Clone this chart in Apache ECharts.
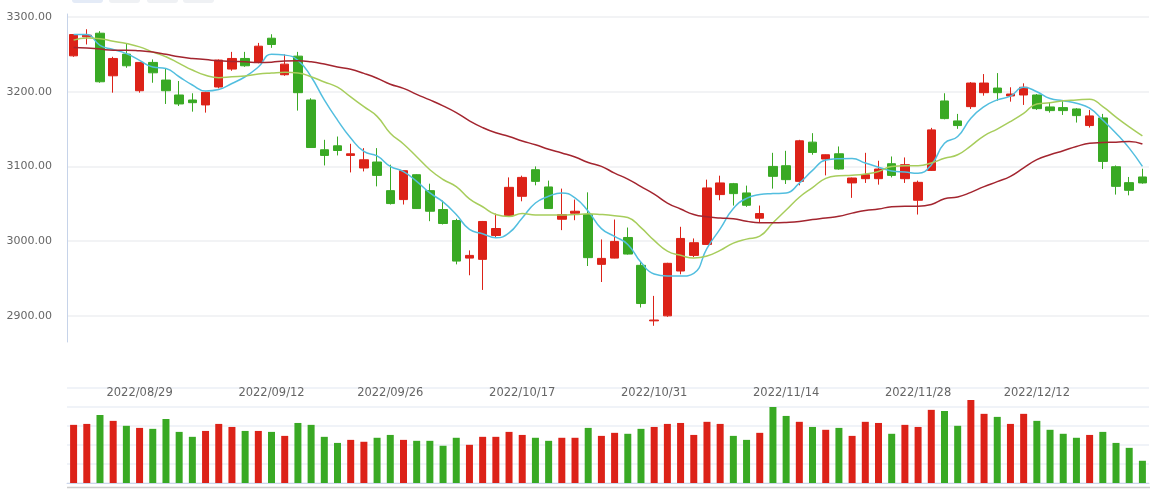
<!DOCTYPE html>
<html>
<head>
<meta charset="utf-8">
<script src="https://cdn.jsdelivr.net/npm/echarts@6/dist/echarts.min.js"></script>
<style>
html,body{margin:0;padding:0;background:#fff;}
#chart{width:1155px;height:489px;}
</style>
</head>
<body>
<div id="chart"></div>
<script>
var dates = ['2022/08/22','2022/08/23','2022/08/24','2022/08/25','2022/08/26','2022/08/29','2022/08/30','2022/08/31','2022/09/01','2022/09/02',
'2022/09/05','2022/09/06','2022/09/07','2022/09/08','2022/09/09','2022/09/12','2022/09/14','2022/09/15','2022/09/16','2022/09/19',
'2022/09/20','2022/09/21','2022/09/22','2022/09/23','2022/09/26','2022/09/27','2022/09/28','2022/09/29','2022/09/30','2022/10/10',
'2022/10/11','2022/10/12','2022/10/13','2022/10/14','2022/10/17','2022/10/18','2022/10/19','2022/10/20','2022/10/21','2022/10/24',
'2022/10/25','2022/10/26','2022/10/27','2022/10/28','2022/10/31','2022/11/01','2022/11/02','2022/11/03','2022/11/04','2022/11/07',
'2022/11/08','2022/11/09','2022/11/10','2022/11/11','2022/11/14','2022/11/15','2022/11/16','2022/11/17','2022/11/18','2022/11/21',
'2022/11/22','2022/11/23','2022/11/24','2022/11/25','2022/11/28','2022/11/29','2022/11/30','2022/12/01','2022/12/02','2022/12/05',
'2022/12/06','2022/12/07','2022/12/08','2022/12/12','2022/12/13','2022/12/14','2022/12/15','2022/12/16','2022/12/19','2022/12/20',
'2022/12/21','2022/12/22'];

var tickLabels = ['2022/08/29','2022/09/12','2022/09/26','2022/10/17','2022/10/31','2022/11/14','2022/11/28','2022/12/12'];

var openV = [3248,3273.4,3278.3,3221.3,3250.3,3201.3,3239.2,3215.6,3195.6,3188.9,
3182.3,3206.3,3230.3,3244.5,3239.2,3271.6,3222.7,3247.6,3188.9,3122.3,
3127.6,3114.7,3097.9,3105.9,3067.6,3055.6,3088.9,3067.6,3042.3,3027.6,
2977.3,2975.6,3007.6,3034.3,3060,3095.6,3072.5,3029.3,3037.3,3035.6,
2968.9,2977.3,3004.9,2967.6,2893.3,2900,2960,2980.9,2995.6,3062.3,
3076.9,3064.5,3030.7,3100,3100.9,3080,3132.5,3109.9,3116.9,3077.9,
3083.6,3083.6,3103.6,3083.6,3054.7,3094.7,3187.6,3160.9,3180,3198.7,
3204.9,3194.3,3195.6,3195.6,3179.6,3178.7,3176.9,3154.7,3164.9,3099.6,
3078.3,3085.9];
var closeV = [3276.5,3275.6,3213.3,3244.5,3234.7,3239.2,3225.3,3201.3,3183.6,3185.3,
3199.2,3242.3,3244.5,3234.7,3260.9,3263.2,3236.9,3198.7,3125.3,3114.7,
3121.3,3116.9,3108.9,3088,3050.3,3094.3,3043.6,3040,3023.6,2973.3,
2980.9,3026.3,3016.9,3072,3085.3,3080,3043.6,3035.6,3040,2977.9,
2976.9,2999.6,2982.7,2916.5,2894.4,2970.3,3003.6,2997.9,3071.2,3077.9,
3063.6,3048,3036.9,3086.7,3082.3,3134.3,3118.7,3115.6,3096.5,3084.5,
3088.9,3096.5,3088,3102.3,3078.7,3148.9,3164,3154.7,3211.6,3211.6,
3198.7,3196.9,3205.9,3177.3,3174.7,3174.7,3168,3167.6,3106.7,3073.3,
3068,3077.9];
var lowV = [3246.7,3263.2,3212,3198.7,3232,3198.7,3212,3183.6,3180.9,3173.3,
3172,3204.5,3228,3233.3,3238,3258.7,3221.3,3174.7,3125,3101.3,
3114.7,3092,3093.3,3073.3,3049,3049,3043,3026.7,3022.3,2968.9,
2954.3,2934.7,3004.5,3034,3053.3,3074.7,3043,3014.7,3028,2966.7,
2945.3,2977,2982,2911.2,2886.7,2898.7,2955.6,2978.7,2995,3054.7,
3047.6,3045.9,3024.5,3070.3,3076.5,3074.7,3115.6,3088,3095.6,3057.9,
3077.9,3075.6,3085.3,3077.9,3035.6,3094,3163,3150.3,3176.9,3194.7,
3188,3186.7,3182.3,3175.6,3172,3168.9,3158.7,3152,3096.5,3062.3,
3061.3,3076.9];
var highV = [3277,3283.6,3281,3246.7,3264.5,3239.5,3243.2,3231.2,3214.3,3197.9,
3200,3243.2,3253.3,3253.3,3265.3,3276.9,3249.9,3253.3,3191.2,3135.6,
3140,3130.3,3124.5,3124.5,3102.3,3094.5,3089.5,3076.9,3054.3,3029.9,
2987.6,3027,3036.9,3085.3,3087.6,3100,3081,3070.3,3055.6,3065.3,
3002.3,3028.9,3018.2,2973.3,2926.7,2971,3019.2,3003.6,3082.3,3087.6,
3077.9,3074.3,3047.6,3118.2,3120.9,3135.6,3144.5,3116,3126.7,3085,
3118.2,3107.6,3113.3,3112,3081,3151.6,3197.9,3170.3,3212.9,3223.6,
3224.9,3205.9,3211.2,3196.9,3185.3,3188.9,3178,3175.6,3170.3,3101.3,
3085.9,3096.9];

var volumeV = [306,311,358,327,301,290,285,337,269,243,
274,311,295,274,274,269,248,316,306,243,
211,227,217,238,253,227,222,222,196,238,
201,243,243,269,253,238,222,238,238,290,
248,264,259,285,295,311,316,253,322,311,
248,227,264,400,353,322,295,280,290,248,
322,316,259,306,295,385,379,301,437,364,
348,311,364,327,280,259,238,253,269,211,
185,117];

var ma5 = [3276.5,3276.5,3262,3256.5,3251,3242,3233,3231,3220,3209,
3201,3203,3211,3220,3233,3250,3249,3242,3220,3189,
3162,3138,3120,3114,3100,3093,3080,3064.5,3052.5,3035.6,
3015.6,3010,3004.5,3011,3031,3051,3060,3064.5,3058,3040,
3016.7,3006.3,2995.6,2971.6,2956,2953.3,2953.3,2956.9,2990.3,3016.5,
3043.6,3057.3,3062.3,3063.6,3064.5,3077.6,3094.7,3108.5,3110.3,3110.5,
3104.5,3099,3094,3092.5,3091,3102,3131,3140,3164.5,3180,
3189,3194,3206,3200,3191,3188,3184.5,3178,3162,3144.5,
3124.5,3100];
var ma10 = [3269,3272,3271,3267.6,3264.5,3260,3253,3246.7,3238,3229,
3222,3218.7,3220,3221,3223.6,3225,3226,3225,3220,3213,
3206,3193,3180,3167,3144.5,3130,3113,3095.6,3082.5,3073,
3056.6,3046,3035.6,3033,3037,3035,3035,3035,3035.6,3036.5,
3035.6,3034,3031.6,3018,3001,2986.7,2981,2977.3,2980,2987.6,
2997.3,3002.7,3006.7,3024.5,3041.6,3058.7,3071.6,3084,3087.6,3088.3,
3090,3093.3,3100,3101,3101,3104.5,3111,3115.6,3127.6,3141,
3150,3160,3171,3183.6,3185.3,3188,3189,3190,3180,3166,
3153,3141];
var ma30 = [3259,3258.5,3257,3255.6,3255.6,3254.7,3253,3250,3246.7,3244.5,
3243,3241.3,3240.5,3240,3239,3239.5,3241,3241.3,3240,3237,
3233,3230,3224.5,3218,3210,3204.5,3196.5,3189,3181,3172,
3161,3152,3145,3140,3134,3129,3123,3118,3112.5,3105.3,
3100,3091,3083,3073,3063,3051,3043,3035.6,3032.5,3031,
3030,3026.7,3024.5,3024.5,3025,3026.3,3029,3031,3033.3,3037.5,
3041,3043,3046,3046.7,3046.7,3049,3056.6,3059,3065.3,3073,
3079.6,3086.7,3098,3109,3115.6,3121,3126.7,3131,3132,3132.5,
3133.3,3130];

var UP = '#dc2218', DOWN = '#39a924';
var candles = dates.map(function(d, i){ return [openV[i], closeV[i], lowV[i], highV[i]]; });

var chart = echarts.init(document.getElementById('chart'), null, {renderer:'canvas'});
var option = {
  animation: false,
  backgroundColor: '#fff',
  grid: [
    {left: 67, right: 6, top: 14, height: 328, outerBoundsMode: 'none'},
    {left: 67, right: 6, top: 388, height: 95, outerBoundsMode: 'none'}
  ],
  xAxis: [
    {type:'category', gridIndex:0, data: dates, boundaryGap: true,
     axisLine:{show:false}, axisTick:{show:false}, splitLine:{show:false},
     axisLabel:{show:true, margin:45, color:'#666', fontSize:11.5, fontFamily:'DejaVu Sans',
       interval: function(idx, val){ return tickLabels.indexOf(val) >= 0; }}},
    {type:'category', gridIndex:1, data: dates, boundaryGap: true,
     axisLine:{show:true, lineStyle:{color:'#ccd6eb', width:1}}, axisTick:{show:false},
     axisLabel:{show:false}, splitLine:{show:false}}
  ],
  yAxis: [
    {type:'value', gridIndex:0, min: 2865, max: 3304, scale:true,
     axisLine:{show:true, lineStyle:{color:'#c6d3e9', width:1}}, axisTick:{show:false},
     axisLabel:{color:'#666', fontSize:11, fontFamily:'DejaVu Sans', margin:15,
       showMinLabel:false, showMaxLabel:false,
       formatter: function(v){ return v.toFixed(2); }},
     splitLine:{show:true, showMinLine:false, showMaxLine:false, lineStyle:{color:'#f2f3f5', width:2}}},
    {type:'value', gridIndex:1, min:0, max:500, interval:100,
     axisLine:{show:false}, axisTick:{show:false}, axisLabel:{show:false},
     splitLine:{show:true, lineStyle:{color:'#f0f3f8', width:2}}}
  ],
  series: [
    {type:'candlestick', name:'K', xAxisIndex:0, yAxisIndex:0, data: candles, barWidth: 9,
     itemStyle:{color:UP, color0:DOWN, borderColor:UP, borderColor0:DOWN, borderWidth:1}},
    {type:'line', name:'MA5', data: ma5, smooth:true, symbol:'none',
     lineStyle:{color:'#52bedf', width:1.5}, z:3},
    {type:'line', name:'MA10', data: ma10, smooth:true, symbol:'none',
     lineStyle:{color:'#a7cd5c', width:1.5}, z:3},
    {type:'line', name:'MA30', data: ma30, smooth:true, symbol:'none',
     lineStyle:{color:'#a3252f', width:1.5}, z:3},
    {type:'bar', name:'Volume', xAxisIndex:1, yAxisIndex:1, data: volumeV, barWidth:7,
     itemStyle:{color: function(p){ return closeV[p.dataIndex] >= openV[p.dataIndex] ? UP : DOWN; }}}
  ],
  graphic: [
    {type:'rect', shape:{x:72, y:-12, width:31, height:15, r:3}, style:{fill:'#e4ebf7'}, silent:true},
    {type:'rect', shape:{x:109, y:-12, width:31, height:15, r:3}, style:{fill:'#eff1f4'}, silent:true},
    {type:'rect', shape:{x:147, y:-12, width:31, height:15, r:3}, style:{fill:'#eff1f4'}, silent:true},
    {type:'rect', shape:{x:183, y:-12, width:31, height:15, r:3}, style:{fill:'#eff1f4'}, silent:true},
    {type:'line', shape:{x1:67, y1:487.5, x2:1150, y2:487.5}, style:{stroke:'#cccccc', lineWidth:1.5}, silent:true}
  ]
};
chart.setOption(option);
</script>
</body>
</html>
